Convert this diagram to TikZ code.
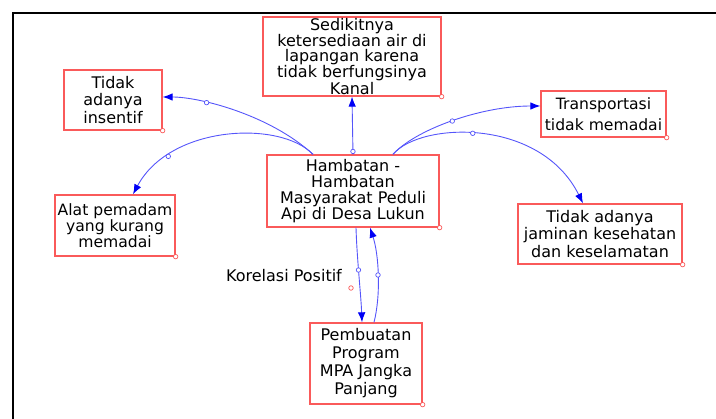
\documentclass[tikz,border=0pt]{standalone}
\usepackage{fontspec}
\setmainfont{DejaVu Sans}
\usetikzlibrary{arrows.meta}
\definecolor{boxred}{RGB}{250,90,90}
\definecolor{linkblue}{RGB}{85,85,250}
\definecolor{tipblue}{RGB}{0,0,245}
\tikzset{
  box/.style={draw=boxred, line width=1.3pt, rectangle, inner sep=0pt, align=center, text=black},
  link/.style={draw=linkblue, line width=0.9pt, -{Latex[length=10pt,width=7.5pt,color=tipblue]}},
  hnd/.style={circle, draw=linkblue, fill=white, line width=0.7pt, minimum size=4.5pt, inner sep=0pt},
  rhnd/.style={circle, draw=boxred, fill=white, line width=0.7pt, minimum size=4.5pt, inner sep=0pt},
  txt/.style={font=\fontsize{16}{#1}\selectfont},
  stxt/.style={font=\fontsize{15.6}{#1}\selectfont},
}
\begin{document}
\begin{tikzpicture}[x=1pt,y=-1pt]
\useasboundingbox (0,0) rectangle (716,419);
\draw[line width=2.5pt] (13,419) -- (13,13) -- (716,13);

\node[box, txt=14.5, minimum width=178pt, minimum height=79pt] (sed) at (352,56.5)
  {Sedikitnya\\ketersediaan air di\\lapangan karena\\tidak berfungsinya\\Kanal};
\node[box, txt=17.5, minimum width=98pt, minimum height=60pt] (tid) at (113,100)
  {Tidak\\adanya\\insentif};
\node[box, stxt=21, minimum width=125pt, minimum height=46pt] (trans) at (603.5,114)
  {Transportasi\\tidak memadai};
\node[box, txt=16, minimum width=172pt, minimum height=72pt] (ham) at (353,191)
  {Hambatan -\\Hambatan\\Masyarakat Peduli\\Api di Desa Lukun};
\node[box, stxt=16, minimum width=120pt, minimum height=61pt] (alat) at (115,225.5)
  {Alat pemadam\\yang kurang\\memadai};
\node[box, txt=17.5, minimum width=164pt, minimum height=60pt] (jam) at (600,234)
  {Tidak adanya\\jaminan kesehatan\\dan keselamatan};
\node[box, txt=18, minimum width=112pt, minimum height=81pt] (pem) at (366,363.5)
  {Pembuatan\\Program\\MPA Jangka\\Panjang};
\node[txt=16, anchor=center] (kor) at (284,276) {Korelasi Positif};

\foreach \b in {sed,tid,trans,ham,alat,jam,pem}
  \node[rhnd] (\b-h) at (\b.south east) {};
\node[rhnd] (kor-h) at (351,288) {};

\draw[link] (ham.north) -- node[hnd, pos=0.05] {} (sed.south);
\draw[link] ([xshift=-40pt]ham.north) .. controls (270,115) and (200,97) .. node[hnd, pos=0.68] {} ([yshift=3pt]tid.east);
\draw[link] ([xshift=-40pt]ham.north) .. controls (280,120) and (170,125) .. node[hnd, pos=0.77] {} ([xshift=18pt]alat.north);
\draw[link] ([xshift=40pt]ham.north) .. controls (415,130) and (480,106) .. node[hnd, pos=0.5] {} ([yshift=8pt]trans.west);
\draw[link] ([xshift=40pt]ham.north) .. controls (420,122) and (540,117) .. node[hnd, pos=0.46] {} ([xshift=-17pt]jam.north);
\draw[link] ([xshift=3pt]ham.south) .. controls (357,260) and (361,295) .. node[hnd, pos=0.43] {} ([xshift=-4pt]pem.north);
\draw[link] ([xshift=8pt]pem.north) .. controls (381,295) and (379,255) .. node[hnd, pos=0.5] {} ([xshift=17pt]ham.south);
\end{tikzpicture}
\end{document}
